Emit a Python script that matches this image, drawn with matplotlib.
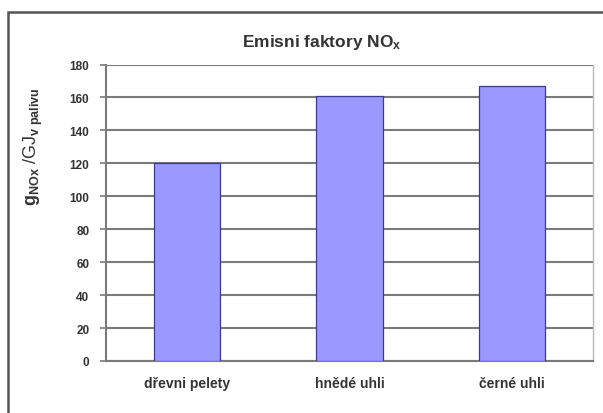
import matplotlib
matplotlib.use("Agg")
import matplotlib.pyplot as plt
from matplotlib.patches import Rectangle
import numpy as np

plt.rcParams['font.family'] = ['Liberation Sans', 'DejaVu Sans']
plt.rcParams['mathtext.fontset'] = 'custom'
plt.rcParams['mathtext.rm'] = 'Liberation Sans'
plt.rcParams['mathtext.bf'] = 'Liberation Sans:bold'
plt.rcParams['mathtext.it'] = 'Liberation Sans'

#---------------------------------data---------------------------------#
kategorie = ["dřevni pelety", "hnědé uhli", "černé uhli"]
emise_nox = [120, 161, 167]
osa_y = [0, 20, 40, 60, 80, 100, 120, 140, 160, 180]

text_color = "#333333"
grid_color = "#7a7a7a"

fig = plt.figure(figsize=(6.03, 4.14), dpi=100)

# outer chart frame
fig.patches.append(Rectangle((8/603, -0.05), 1.2, 0.05 + 1 - 13/414, transform=fig.transFigure,
                             facecolor="none", edgecolor="#555555", linewidth=1.8, zorder=5))

ax = fig.add_axes([106/603, 52/414, 487/603, 296.5/414])
ax.set_facecolor("white")

x = np.arange(len(kategorie))
ax.bar(x, emise_nox, width=0.41, color="#9999ff", edgecolor="#3b3b8f", linewidth=0.9, zorder=3)

ax.set_xlim(-0.5, 2.5)
ax.set_ylim(0, 180)
ax.set_yticks(osa_y)
ax.set_yticklabels([str(v) for v in osa_y], fontsize=8.5, fontweight="bold", color=text_color)
ax.set_xticks(x)
ax.set_xticklabels(kategorie, fontsize=10, fontweight="bold", color=text_color)
ax.tick_params(axis="x", length=0, pad=11)
ax.tick_params(axis="y", length=4, width=1.2, color=grid_color, pad=8)
ax.yaxis.grid(True, color=grid_color, linewidth=1.5, zorder=1)
ax.set_axisbelow(True)

for s in ["left", "bottom"]:
    ax.spines[s].set_color(grid_color)
    ax.spines[s].set_linewidth(1.5)
ax.spines["right"].set_color("#bbbbbb")
ax.spines["right"].set_linewidth(1.0)
ax.spines["top"].set_visible(False)

# chart title centred on the frame, not on the plot area
fig.text(322/603, 1 - 42/414, r"Emisni faktory NO$_\mathbf{x}$", fontsize=12.5, fontweight="bold",
         color=text_color, ha="center", va="center")

fig.text(33/603, 1 - 147/414, r"$\mathbf{g_{NOx}}$ /GJ$_{\mathbf{v\ palivu}}$",
         rotation=90, ha="center", va="center", fontsize=13, color=text_color)

fig.savefig("out.png", dpi=100)
